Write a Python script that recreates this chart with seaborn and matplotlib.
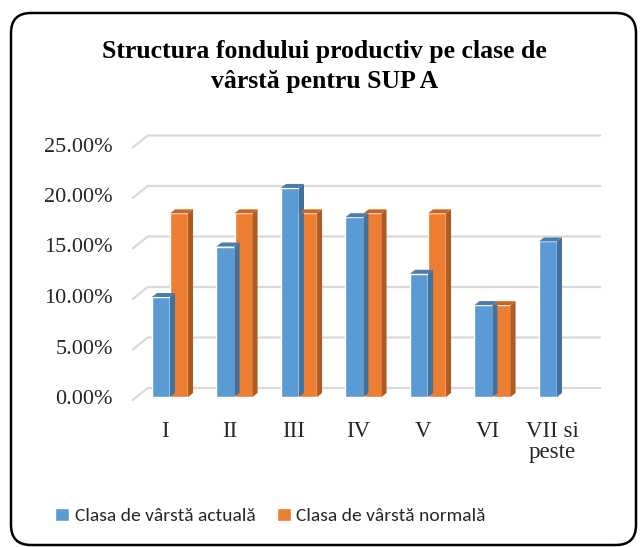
import pandas as pd
import matplotlib
matplotlib.use('Agg')
import matplotlib.pyplot as plt
import matplotlib.transforms as mtransforms
from matplotlib.patches import Polygon, FancyBboxPatch
from matplotlib import font_manager
import seaborn as sns

# Data (percent)
clase = ['I', 'II', 'III', 'IV', 'V', 'VI', 'VII si\npeste']
actuala = [9.9, 14.9, 20.7, 17.8, 12.2, 9.1, 15.4]
normala = [18.18, 18.18, 18.18, 18.18, 18.18, 9.09, 0.0]
serii = ['Clasa de vârstă actuală', 'Clasa de vârstă normală']
culori = ['#5B9BD5', '#ED7D31']
culori_lateral = ['#41719C', '#AE5A21']
culori_sus = ['#4A7DAE', '#C9651F']
y_ticks = [0, 5, 10, 15, 20, 25]

df = pd.DataFrame({
    'clasa': clase * 2,
    'valoare': actuala + normala,
    'serie': [serii[0]] * len(clase) + [serii[1]] * len(clase),
})

sns.set_style('white')
installed = {f.name for f in font_manager.fontManager.ttflist}
serif = 'Liberation Serif'
sans = next(f for f in ['Carlito', 'Liberation Sans Narrow', 'Roboto', 'DejaVu Sans'] if f in installed)

fig = plt.figure(figsize=(6.4, 5.47), dpi=100)
W, H = 640, 547
left_px, right_px = 137.75, 589.25
bottom_px, top_px = 397, 144.5
ax = fig.add_axes([left_px / W, (H - bottom_px) / H,
                   (right_px - left_px) / W, (bottom_px - top_px) / H])

sns.barplot(data=df, x='clasa', y='valoare', hue='serie', order=clase,
            hue_order=serii, palette=culori, saturation=1, width=0.56,
            gap=0, ax=ax, zorder=3)
ax.set_xlim(-0.5, len(clase) - 0.5)
ax.set_ylim(0, 25)
for s in ax.spines.values():
    s.set_visible(False)
ax.set_xlabel('')
ax.set_ylabel('')
ax.tick_params(length=0)

# 3D look: side and top faces of the bars
px_x = (len(clase)) / (right_px - left_px)
px_y = 25 / (bottom_px - top_px)
dx, dy = 5 * px_x, 4 * px_y
for i, cont in enumerate(ax.containers):
    for bar in cont:
        h = bar.get_height()
        if h <= 0:
            continue
        x0 = bar.get_x()
        x1 = x0 + bar.get_width()
        ax.add_patch(Polygon([(x1, 0), (x1, h), (x1 + dx, h + dy), (x1 + dx, dy)],
                             closed=True, color=culori_lateral[i], lw=0, zorder=3))
        ax.add_patch(Polygon([(x0, h), (x1, h), (x1 + dx, h + dy), (x0 + dx, h + dy)],
                             closed=True, color=culori_sus[i], lw=0, zorder=3))

# gridlines on the back wall with perspective segment
for v in y_ticks:
    start = mtransforms.offset_copy(ax.transData, fig, x=-5, y=-3, units='dots')
    back = mtransforms.offset_copy(ax.transData, fig, x=10, y=9, units='dots')
    back_r = mtransforms.offset_copy(ax.transData, fig, x=11, y=9, units='dots')
    p0 = start.transform((-0.5, v))
    p1 = back.transform((-0.5, v))
    p2 = back_r.transform((len(clase) - 0.5, v))
    inv = ax.transData.inverted()
    pts = inv.transform([p0, p1, p2])
    ax.plot(pts[:, 0], pts[:, 1], color='#D9D9D9', lw=1.6, zorder=1, clip_on=False)

ax.set_yticks(y_ticks)
ax.set_yticklabels([f'{v:.2f}%' for v in y_ticks], fontsize=16, family=serif, color='#262626')
ax.tick_params(axis='y', pad=18)
ax.set_xticks(range(len(clase)))
ax.set_xticklabels(clase, fontsize=16.5, family=serif, color='#262626', linespacing=1.0)
ax.tick_params(axis='x', pad=17)
shift = mtransforms.ScaledTranslation(-5 / 100, 0, fig.dpi_scale_trans)
for lab in ax.get_xticklabels():
    lab.set_transform(lab.get_transform() + shift)

handles, labels = ax.get_legend_handles_labels()
ax.get_legend().remove()
fig.legend(handles, labels, loc='center', bbox_to_anchor=(0.423, 0.057), ncol=2,
           frameon=False, handlelength=0.7, handleheight=0.7, handletextpad=0.3,
           columnspacing=1.1, prop={'family': sans, 'size': 14})

fig.text(0.507, 0.878, 'Structura fondului productiv pe clase de\nvârstă pentru SUP A',
         ha='center', va='center', fontsize=18.5, fontweight='bold', family=serif,
         linespacing=1.4, color='#000000')

fig.patches.append(FancyBboxPatch((11, 2), 625, 532, boxstyle='round,pad=0,rounding_size=20',
                                  transform=mtransforms.IdentityTransform(),
                                  facecolor='none', edgecolor='black', lw=1.8))

fig.savefig('out.png', dpi=100)
